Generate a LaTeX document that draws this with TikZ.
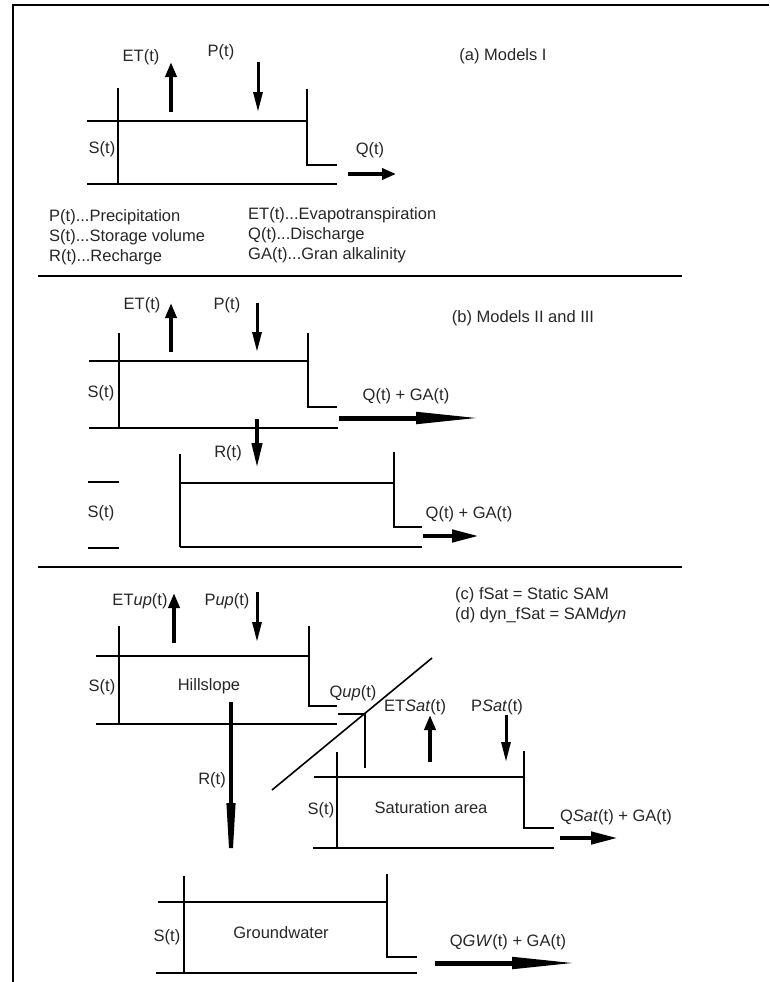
\documentclass[tikz,border=0pt]{standalone}
\usepackage{fontspec}
\setmainfont{Liberation Sans}
\usetikzlibrary{arrows.meta}
\newcommand\lbfont{\fontsize{16.5}{19}\selectfont}
\begin{document}
\begin{tikzpicture}[x=1pt,y=-1pt,
  wall/.style={line width=1.6pt},
  sep/.style={line width=2pt},
  lbl/.style={font=\lbfont, inner sep=0pt, text=black!85},
  upar/.style={line width=4pt, -{Triangle[length=15pt,width=11pt]}},
  dnar/.style={line width=3pt, -{Triangle[length=20pt,width=9pt]}},
  qar/.style={line width=4.5pt, -{Triangle[length=14pt,width=11pt]}},
  midar/.style={line width=4.5pt, -{Triangle[length=27pt,width=12pt]}},
  longar/.style={line width=5pt, -{Triangle[length=66pt,width=11pt]}},
  rar/.style={line width=4pt, -{Triangle[length=25pt,width=10pt]}},
  rlongar/.style={line width=4pt, -{Triangle[length=90pt,width=8pt]}}]
\useasboundingbox (0,0) rectangle (769,982);
% frame and separators
\draw[sep] (13,982) -- (13,5) -- (769,5);
\draw[sep] (38,276) -- (682,276);
\draw[sep] (38,567) -- (682,567);

% ---------- (a) ----------
\draw[wall] (87,121) -- (307,121);
\draw[wall] (118,88) -- (118,184);
\draw[wall] (307,89) -- (307,165) -- (337,165);
\draw[wall] (87,184) -- (337,184);
\draw[upar] (171,112) -- (171,62);
\draw[dnar] (258,62) -- (258,112);
\draw[qar] (348,174) -- (396,174);
\node[lbl] (aET) at (141,57) {ET(t)};
\node[lbl] (aP) at (221,52) {P(t)};
\node[lbl] (aS) at (102,149) {S(t)};
\node[lbl] (aQ) at (370,150) {Q(t)};
\node[lbl] (aTitle) at (503,56) {(a) Models I};
\node[lbl,anchor=west] (l1) at (49,217) {P(t)...Precipitation};
\node[lbl,anchor=west] (l2) at (49,237) {S(t)...Storage volume};
\node[lbl,anchor=west] (l3) at (49,257) {R(t)...Recharge};
\node[lbl,anchor=west] (l4) at (248,215) {ET(t)...Evapotranspiration};
\node[lbl,anchor=west] (l5) at (248,235) {Q(t)...Discharge};
\node[lbl,anchor=west] (l6) at (248,255) {GA(t)...Gran alkalinity};

% ---------- (b) ----------
\draw[wall] (89,361) -- (307,361);
\draw[wall] (119,333) -- (119,428);
\draw[wall] (308,333) -- (308,407) -- (337,407);
\draw[wall] (89,428) -- (338,428);
\draw[upar] (171,352) -- (171,303);
\draw[dnar] (257,303) -- (257,352);
\draw[longar] (339,418) -- (482,418);
\draw[rar] (257,419) -- (257,468);
\draw[wall] (180,454) -- (180,547);
\draw[wall] (180,483) -- (394,483);
\draw[wall] (394,452) -- (394,527) -- (422,527);
\draw[wall] (180,547) -- (422,547);
\draw[wall] (88,482) -- (119,482);
\draw[wall] (88,548) -- (119,548);
\draw[midar] (423,536) -- (479,536);
\node[lbl] (bET) at (142,305) {ET(t)};
\node[lbl] (bP) at (227,305) {P(t)};
\node[lbl] (bTitle) at (523,318) {(b) Models II and III};
\node[lbl] (bS1) at (101,393) {S(t)};
\node[lbl] (bQ1) at (406,396) {Q(t) + GA(t)};
\node[lbl] (bR) at (228,453) {R(t)};
\node[lbl] (bS2) at (101,513) {S(t)};
\node[lbl] (bQ2) at (469,514) {Q(t) + GA(t)};

% ---------- (c)/(d) ----------
\node[lbl,anchor=west] (cTitle) at (455,595) {(c) fSat = Static SAM};
\node[lbl,anchor=west] (dTitle) at (455,615) {(d) dyn\_fSat = SAM\textit{dyn}};
% hillslope
\draw[wall] (96,656) -- (308,656);
\draw[wall] (119,626) -- (119,724);
\draw[wall] (309,626) -- (309,706) -- (337,706);
\draw[wall] (96,724) -- (337,724);
\draw[upar] (174,643) -- (174,593);
\draw[dnar] (257,592) -- (257,642);
\draw[rlongar] (231,702) -- (231,893);
\node[lbl] (cET) at (140,601) {ET\textit{up}(t)};
\node[lbl] (cP) at (227,601) {P\textit{up}(t)};
\node[lbl] (cS1) at (102,687) {S(t)};
\node[lbl] (cHill) at (209,686) {Hillslope};
\node[lbl] (cQup) at (353,693) {Q\textit{up}(t)};
\node[lbl] (cR) at (212,780) {R(t)};
% slope line and saturation area
\draw[wall] (272,790) -- (432,658);
\draw[wall] (338,714) -- (365,714) -- (365,768);
\draw[upar] (430,762) -- (430,715);
\draw[dnar] (506,715) -- (506,762);
\draw[wall] (314,777) -- (524,777);
\draw[wall] (337,752) -- (337,848);
\draw[wall] (524,751) -- (524,828) -- (554,828);
\draw[wall] (313,848) -- (554,848);
\draw[midar] (560,838) -- (618,838);
\node[lbl] (cETs) at (415,707) {ET\textit{Sat}(t)};
\node[lbl] (cPs) at (497,707) {P\textit{Sat}(t)};
\node[lbl] (cS2) at (321,810) {S(t)};
\node[lbl] (cSat) at (431,808) {Saturation area};
\node[lbl] (cQs) at (616,817) {Q\textit{Sat}(t) + GA(t)};
% groundwater
\draw[wall] (158,902) -- (387,902);
\draw[wall] (184,876) -- (184,973);
\draw[wall] (387,874) -- (387,957) -- (417,957);
\draw[wall] (156,973) -- (417,973);
\draw[longar] (435,963) -- (578,963);
\node[lbl] (cS3) at (167,937) {S(t)};
\node[lbl] (cGW) at (281,933) {Groundwater};
\node[lbl] (cQgw) at (508,942) {Q\textit{GW}(t) + GA(t)};
\end{tikzpicture}
\end{document}
